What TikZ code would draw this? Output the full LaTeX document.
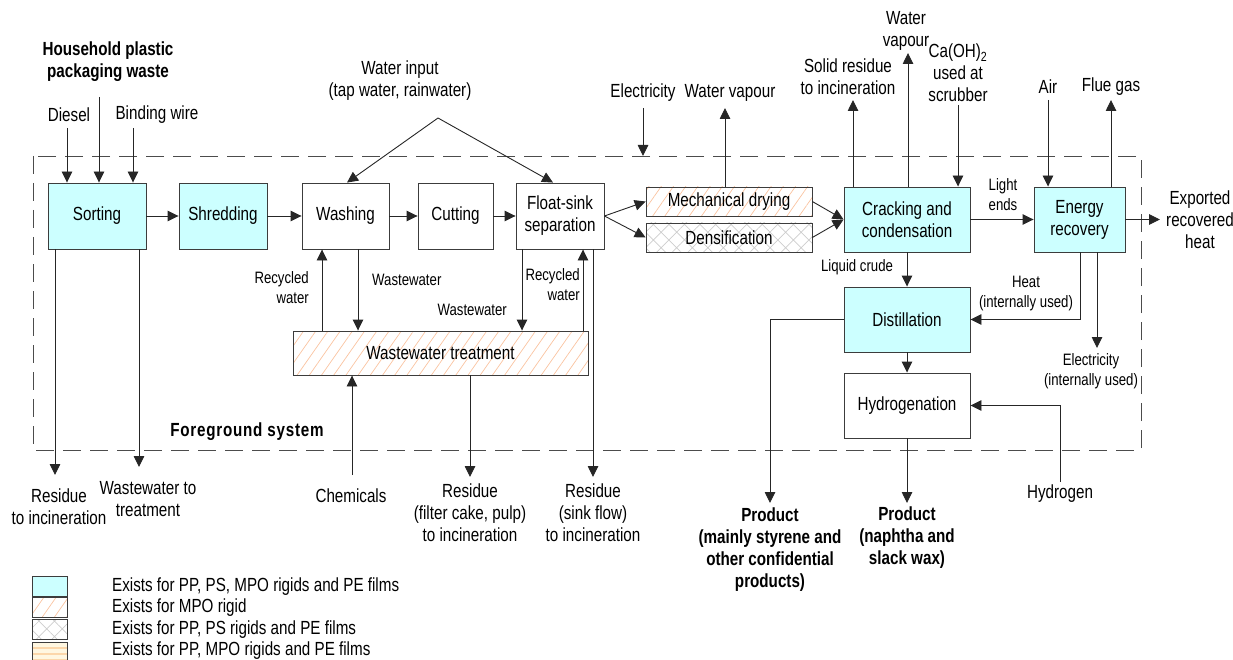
\documentclass[tikz,border=0pt]{standalone}
\usepackage{fontspec}
\setmainfont{Liberation Sans}[FakeStretch=0.8]
\usetikzlibrary{arrows.meta,patterns,patterns.meta,calc}
\definecolor{cy}{RGB}{204,255,255}
\definecolor{hatchor}{RGB}{250,195,160}
\definecolor{hatchgr}{RGB}{205,205,205}
\definecolor{cream}{RGB}{255,247,225}
\definecolor{stripe}{RGB}{252,215,170}
\definecolor{edge}{RGB}{60,60,60}
\begin{document}
\begin{tikzpicture}[x=1pt,y=-1pt,
  box/.style={draw=edge, line width=0.9pt, minimum height=66pt, inner sep=0pt, align=center, font=\fontsize{19}{22}\selectfont},
  cyanbox/.style={box, fill=cy},
  mpo/.style={pattern={Lines[angle=55,distance=10pt,line width=0.7pt]}, pattern color=hatchor},
  densp/.style={pattern={Hatch[angle=45,distance=11pt,line width=0.7pt]}, pattern color=hatchgr},
  stripes/.style={preaction={fill=cream}, pattern={Lines[angle=0,distance=6pt,line width=1.4pt]}, pattern color=stripe},
  lbl/.style={inner sep=0pt, align=center, font=\fontsize{19}{22}\selectfont},
  slbl/.style={inner sep=0pt, align=center, font=\fontsize{16.5}{20}\selectfont},
  blbl/.style={inner sep=0pt, align=center, font=\fontsize{19}{22}\selectfont\bfseries},
  arr/.style={line width=0.9pt, draw=black!85, -{Triangle[length=11pt,width=10.5pt]}},
  legbox/.style={draw=edge, line width=0.9pt, minimum width=35pt, minimum height=20pt, inner sep=0pt},
  legtxt/.style={anchor=west, inner sep=0pt, font=\fontsize{19}{22}\selectfont},
]
\useasboundingbox (0,0) rectangle (1233,660);

% foreground system boundary
\draw[line width=0.9pt, draw=black!70, dash pattern=on 18pt off 9pt] (33,156) rectangle (1141,450);
\node[blbl, font=\fontsize{19}{22}\selectfont\bfseries\addfontfeatures{LetterSpace=4}] (fg) at (247,432) {Foreground system};

% process boxes
\node[cyanbox, minimum width=98pt] (sort) at (97,216) {Sorting};
\node[cyanbox, minimum width=88pt] (shred) at (223,216) {Shredding};
\node[box, minimum width=87pt] (wash) at (345.5,216) {Washing};
\node[box, minimum width=75pt] (cut) at (455.5,216) {Cutting};
\node[box, minimum width=88pt] (float) at (560,216) {Float-sink\\separation};
\node[box, mpo, minimum width=166pt, minimum height=29pt] (mech) at (729,201.5) {Mechanical drying};
\node[box, densp, minimum width=166pt, minimum height=29pt] (dens) at (729,237.5) {Densification};
\node[cyanbox, minimum width=126pt, minimum height=65pt] (crack) at (907,219.5) {Cracking and\\condensation};
\node[cyanbox, minimum width=91pt, minimum height=65pt] (energy) at (1079.5,219.5) {Energy\\recovery};
\node[cyanbox, minimum width=126pt, minimum height=65pt] (dist) at (907,319.5) {Distillation};
\node[box, minimum width=126pt, minimum height=65pt] (hydro) at (907,405.5) {Hydrogenation};
\node[box, mpo, minimum width=295pt, minimum height=44pt] (wwt) at (440.5,353) {Wastewater treatment};

% main flow
\draw[arr] (sort.east) -- (shred.west);
\draw[arr] (shred.east) -- (wash.west);
\draw[arr] (wash.east) -- (cut.west);
\draw[arr] (cut.east) -- (float.west);
\draw[arr] (float.east) -- (mech.west);
\draw[arr] (float.east) -- (dens.west);
\draw[arr] (mech.east) -- (crack.west);
\draw[arr] (dens.east) -- (crack.west);
\draw[arr] (crack.east) -- (energy.west);
\node[slbl] (light) at (1003,195) {Light\\ends};
\coordinate (exp) at (1160,219.5);
\draw[arr] (energy.east) -- (exp);
\node[lbl] (expl) at (1200,220) {Exported\\recovered\\heat};

% inputs at sorting
\node[blbl] (hh) at (108,62) {Household plastic\\packaging waste};
\coordinate (hhs) at (99,97);
\draw[arr] (hhs) -- (sort.north -| hhs);
\node[lbl] (diesel) at (69,115) {Diesel};
\coordinate (ds) at (67,128);
\draw[arr] (ds) -- (sort.north -| ds);
\node[lbl] (bw) at (157,115) {Binding wire};
\coordinate (bws) at (133,128);
\draw[arr] (bws) -- (sort.north -| bws);

% water input
\node[lbl] (wi) at (400,81) {Water input\\(tap water, rainwater)};
\coordinate (apex) at (438,118);
\draw[arr] (apex) -- ($(wash.north)+(1.5,0)$);
\draw[arr] (apex) -- ($(float.north)+(-7,0)$);

% electricity / water vapour
\node[lbl] (el) at (643,93) {Electricity};
\coordinate (els) at (643,108);
\coordinate (ele) at (643,156);
\draw[arr] (els) -- (ele);
\node[lbl] (wvl) at (730,93) {Water vapour};
\coordinate (wv1) at (725,108);
\draw[arr] (mech.north -| wv1) -- (wv1);

% cracking top
\node[lbl] (srl) at (848,77) {Solid residue\\to incineration};
\coordinate (sr) at (853,100);
\draw[arr] (crack.north -| sr) -- (sr);
\node[lbl] (wv2l) at (906,31) {Water\\vapour};
\coordinate (wv2) at (908,53);
\draw[arr] (crack.north -| wv2) -- (wv2);
\node[lbl] (cal) at (958,73) {Ca(OH)\textsubscript{2}\\used at\\scrubber};
\coordinate (ca) at (958,105);
\draw[arr] (ca) -- (crack.north -| ca);

% energy recovery
\node[lbl] (airl) at (1048,87) {Air};
\coordinate (air) at (1048,100);
\draw[arr] (air) -- (energy.north -| air);
\node[lbl] (fluel) at (1111,87) {Flue gas};
\coordinate (flue) at (1111,100);
\draw[arr] (energy.north -| flue) -- (flue);
\coordinate (heatx) at (1080,300);
\draw[arr] (energy.south -| heatx) |- (dist.east);
\node[slbl] (heatl) at (1026,294) {Heat\\(internally used)};
\coordinate (eli) at (1097,348);
\draw[arr] (energy.south -| eli) -- (eli);
\node[slbl] (elil) at (1091,371) {Electricity\\(internally used)};

% distillation & hydrogenation
\draw[arr] (crack.south) -- (dist.north);
\node[slbl] (lc) at (857,267) {Liquid crude};
\draw[arr] (dist.south) -- (hydro.north);
\node[lbl] (h2l) at (1060,494) {Hydrogen};
\coordinate (h2) at (1060,482);
\draw[arr] (h2) |- (hydro.east);
\coordinate (pn) at (907,503);
\draw[arr] (hydro.south) -- (pn);
\node[blbl] (pnl) at (907,538) {Product\\(naphtha and\\slack wax)};
\coordinate (ps) at (770,503);
\draw[arr] (dist.west) -| (ps);
\node[blbl] (psl) at (770,550) {Product\\(mainly styrene and\\other confidential\\products)};

% sorting outputs
\coordinate (res1) at (55,475);
\draw[arr] (sort.south -| res1) -- (res1);
\node[lbl] (res1l) at (59,507) {Residue\\to incineration};
\coordinate (ww1) at (139,467);
\draw[arr] (sort.south -| ww1) -- (ww1);
\node[lbl] (ww1l) at (148,499) {Wastewater to\\treatment};

% wastewater loops
\coordinate (rw1) at (322,300);
\draw[arr] (wwt.north -| rw1) -- (wash.south -| rw1);
\node[slbl, anchor=east, align=right] (rw1l) at (309,288) {Recycled\\water};
\coordinate (wwa) at (358,300);
\draw[arr] (wash.south -| wwa) -- (wwt.north -| wwa);
\node[slbl, anchor=west] (wwal) at (372,280) {Wastewater};
\coordinate (wwb) at (522,300);
\draw[arr] (float.south -| wwb) -- (wwt.north -| wwb);
\node[slbl, anchor=east] (wwbl) at (507,310) {Wastewater};
\coordinate (rw2) at (583,300);
\draw[arr] (wwt.north -| rw2) -- (float.south -| rw2);
\node[slbl, anchor=east, align=right] (rw2l) at (580,285) {Recycled\\water};
\coordinate (res3) at (593,477);
\draw[arr] (float.south -| res3) -- (res3);
\node[lbl] (res3l) at (593,513) {Residue\\(sink flow)\\to incineration};
\coordinate (res2) at (470,477);
\draw[arr] (wwt.south -| res2) -- (res2);
\node[lbl] (res2l) at (470,513) {Residue\\(filter cake, pulp)\\to incineration};
\coordinate (chem) at (352,475);
\draw[arr] (chem) -- (wwt.south -| chem);
\node[lbl] (cheml) at (351,496) {Chemicals};

% legend
\node[legbox, fill=cy] (lg1) at (49.5,586) {};
\node[legbox, mpo] (lg2) at (49.5,607) {};
\node[legbox, densp] (lg3) at (49.5,629) {};
\node[legbox, stripes] (lg4) at (49.5,652) {};
\node[legtxt] (lt1) at (112,587) {Exists for PP, PS, MPO rigids and PE films};
\node[legtxt] (lt2) at (112,608) {Exists for MPO rigid};
\node[legtxt] (lt3) at (112,630) {Exists for PP, PS rigids and PE films};
\node[legtxt] (lt4) at (112,651) {Exists for PP, MPO rigids and PE films};
\end{tikzpicture}
\end{document}
